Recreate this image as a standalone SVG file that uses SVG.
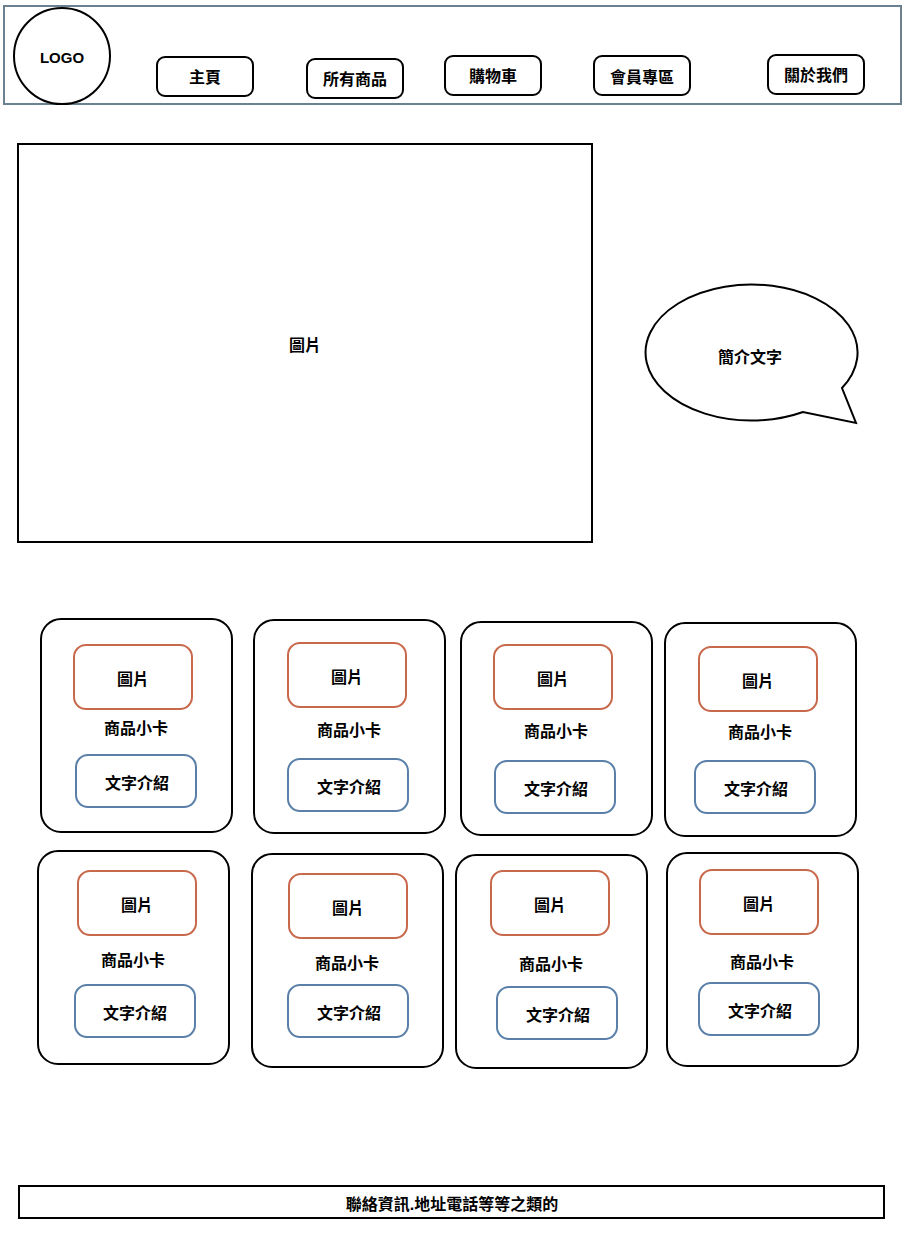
<svg xmlns="http://www.w3.org/2000/svg" width="908" height="1248" viewBox="0 0 908 1248">
<style>
text{font-family:"Liberation Sans","Noto Sans CJK TC",sans-serif;font-weight:bold;font-size:16px;fill:#000;text-anchor:middle;dominant-baseline:central}
.blk{fill:#fff;stroke:#000;stroke-width:2}
.btn{fill:#fff;stroke:#000;stroke-width:2}
.card{fill:#fff;stroke:#000;stroke-width:2}
.img{fill:#fff;stroke:#c8694c;stroke-width:2}
.txt{fill:#fff;stroke:#5a80aa;stroke-width:2}
</style>
<rect width="908" height="1248" fill="#fff"/>
<g id="header">
<rect x="4" y="6" width="897" height="98" fill="#fff" stroke="#6b8190" stroke-width="2"/>
</g>
<g id="logo"><circle cx="62" cy="56" r="48" class="blk"/><text x="62" y="57" style="font-size:15px">LOGO</text></g>
<g id="nav-home"><rect x="157" y="57" width="96" height="39" rx="8" class="btn"/><text x="205" y="77">主頁</text></g>
<g id="nav-products"><rect x="307" y="59" width="96" height="39" rx="8" class="btn"/><text x="355" y="79">所有商品</text></g>
<g id="nav-cart"><rect x="445" y="56" width="96" height="39" rx="8" class="btn"/><text x="493" y="76">購物車</text></g>
<g id="nav-member"><rect x="594" y="56" width="96" height="39" rx="8" class="btn"/><text x="642" y="77">會員專區</text></g>
<g id="nav-about"><rect x="768" y="55" width="96" height="39" rx="8" class="btn"/><text x="816" y="75">關於我們</text></g>
<g id="hero"><rect x="18" y="144" width="574" height="398" class="blk"/><text x="305" y="345">圖片</text></g>
<g id="bubble"><path d="M842 388 A106 68 0 1 0 803 412 L856 423 Z" class="blk"/><text x="750" y="357">簡介文字</text></g>

<g id="card1"><rect x="41" y="619" width="191" height="213" rx="20" class="card"/>
<rect x="74" y="645" width="118" height="64" rx="12" class="img"/><text x="133" y="679">圖片</text>
<text x="136" y="728">商品小卡</text>
<rect x="76" y="755" width="120" height="52" rx="12" class="txt"/><text x="137" y="783">文字介紹</text></g>
<g id="card2"><rect x="254" y="620" width="191" height="213" rx="20" class="card"/>
<rect x="288" y="643" width="118" height="64" rx="12" class="img"/><text x="347" y="677">圖片</text>
<text x="349" y="730">商品小卡</text>
<rect x="288" y="759" width="120" height="52" rx="12" class="txt"/><text x="349" y="787">文字介紹</text></g>
<g id="card3"><rect x="461" y="622" width="191" height="213" rx="20" class="card"/>
<rect x="494" y="645" width="118" height="64" rx="12" class="img"/><text x="553" y="679">圖片</text>
<text x="556" y="731">商品小卡</text>
<rect x="495" y="761" width="120" height="52" rx="12" class="txt"/><text x="556" y="789">文字介紹</text></g>
<g id="card4"><rect x="665" y="623" width="191" height="213" rx="20" class="card"/>
<rect x="699" y="647" width="118" height="64" rx="12" class="img"/><text x="758" y="681">圖片</text>
<text x="760" y="732">商品小卡</text>
<rect x="695" y="761" width="120" height="52" rx="12" class="txt"/><text x="756" y="789">文字介紹</text></g>

<g id="card5"><rect x="38" y="851" width="191" height="213" rx="20" class="card"/>
<rect x="78" y="871" width="118" height="64" rx="12" class="img"/><text x="137" y="905">圖片</text>
<text x="133" y="960">商品小卡</text>
<rect x="75" y="985" width="120" height="52" rx="12" class="txt"/><text x="135" y="1013">文字介紹</text></g>
<g id="card6"><rect x="252" y="854" width="191" height="213" rx="20" class="card"/>
<rect x="289" y="874" width="118" height="64" rx="12" class="img"/><text x="348" y="908">圖片</text>
<text x="347" y="963">商品小卡</text>
<rect x="288" y="985" width="120" height="52" rx="12" class="txt"/><text x="349" y="1013">文字介紹</text></g>
<g id="card7"><rect x="456" y="855" width="191" height="213" rx="20" class="card"/>
<rect x="491" y="871" width="118" height="64" rx="12" class="img"/><text x="550" y="905">圖片</text>
<text x="551" y="964">商品小卡</text>
<rect x="497" y="987" width="120" height="52" rx="12" class="txt"/><text x="558" y="1015">文字介紹</text></g>
<g id="card8"><rect x="667" y="853" width="191" height="213" rx="20" class="card"/>
<rect x="700" y="870" width="118" height="64" rx="12" class="img"/><text x="759" y="904">圖片</text>
<text x="762" y="962">商品小卡</text>
<rect x="699" y="983" width="120" height="52" rx="12" class="txt"/><text x="760" y="1011">文字介紹</text></g>

<g id="footer"><rect x="19" y="1186" width="865" height="32" class="blk"/><text x="452" y="1204">聯絡資訊.地址電話等等之類的</text></g>
<g id="connectors"></g>
</svg>
